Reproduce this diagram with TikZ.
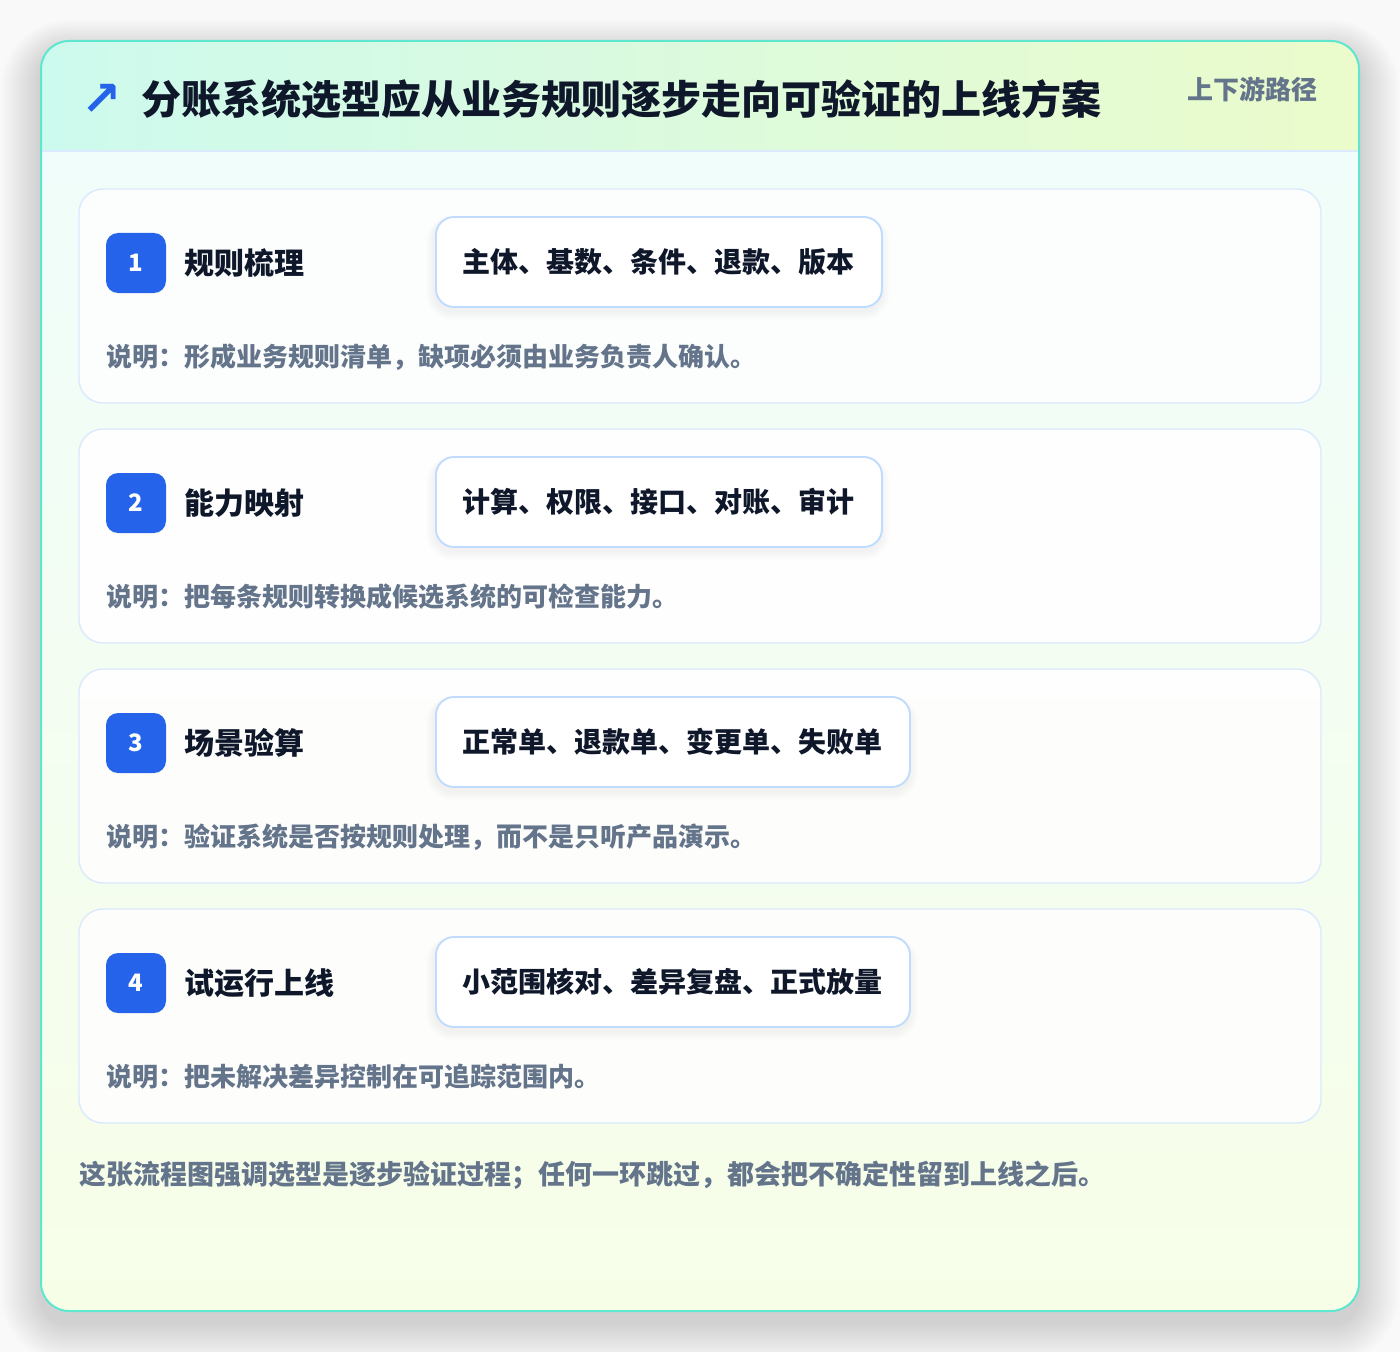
\documentclass[tikz,border=0pt]{standalone}
\usepackage{fontspec}
\setmainfont{Noto Sans CJK SC}
\newfontfamily\symfont{DejaVu Sans}
\usepackage{xcolor}

\definecolor{ink}{HTML}{0F172A}
\definecolor{muted}{HTML}{64748B}
\definecolor{badgeblue}{HTML}{2563EB}
\definecolor{cardline}{HTML}{DBEAFE}
\definecolor{tagline}{HTML}{BFDBFE}
\definecolor{tealline}{HTML}{5EE6CF}
\definecolor{mintA}{HTML}{CDFAEE}
\definecolor{limeA}{HTML}{EBFBCB}
\definecolor{bodytop}{HTML}{F0FDFA}
\definecolor{bodybot}{HTML}{F7FEE8}
\definecolor{pagebg}{HTML}{F9F9FA}

\tikzset{
  stepcard/.style={draw=cardline, line width=1.1pt, fill=white, fill opacity=0.85, text opacity=1, rounded corners=18pt},
  badgebox/.style={fill=badgeblue, text=white, rounded corners=9pt, minimum size=45pt, inner sep=0pt, font=\fontsize{18}{22}\selectfont\bfseries},
  steptitle/.style={anchor=west, inner sep=0pt, text=ink, font=\fontsize{22.5}{27}\selectfont\bfseries},
  tagbox/.style={anchor=west, draw=tagline, line width=1.4pt, fill=white, rounded corners=13.5pt, inner xsep=20.25pt, minimum height=67.5pt, text=ink, font=\fontsize{21}{25}\selectfont\bfseries},
  desctext/.style={anchor=west, inner sep=0pt, text=muted, font=\fontsize{19.5}{23}\selectfont\bfseries},
}

\begin{document}
\begin{tikzpicture}[x=0.75pt, y=-0.75pt]

  % Page
  \fill[pagebg] (0,0) rectangle (1400,1352);
  \useasboundingbox (0,0) rectangle (1400,1352);

  % Soft shadow of the card
  \foreach \s in {1,...,20} {
    \fill[black, opacity=0.006, rounded corners=21pt+\s*1.5pt]
      (41-\s*2, 52-\s*1.6) rectangle (1359+\s*2, 1323+\s*2);
  }

  % Card body and header
  \begin{scope}
    \clip[rounded corners=21pt] (41,41) rectangle (1359,1311);
    \shade[top color=bodytop, bottom color=bodybot] (41,151) rectangle (1359,1311);
    \shade[left color=mintA, right color=limeA] (41,41) rectangle (1359,151);
    \draw[cardline, line width=1.2pt] (41,151) -- (1359,151);
  \end{scope}
  \draw[tealline, line width=1.5pt, rounded corners=21pt] (41,41) rectangle (1359,1311);

  % Header texts
  \node[inner sep=0pt, text=badgeblue, font=\fontsize{36}{40}\symfont\bfseries] (icon) at (102,100) {↗};
  \node[anchor=west, inner sep=0pt, text=ink, font=\fontsize{30}{36}\selectfont\bfseries] (title) at (141,99)
    {分账系统选型应从业务规则逐步走向可验证的上线方案};
  \node[anchor=east, inner sep=0pt, text=muted, font=\fontsize{19.5}{23}\selectfont\bfseries] (path) at (1318,89)
    {上下游路径};

  % Steps
  \foreach \i/\name/\tag/\desc in {
      1/{规则梳理}/{主体、基数、条件、退款、版本}/{说明：形成业务规则清单，缺项必须由业务负责人确认。},
      2/{能力映射}/{计算、权限、接口、对账、审计}/{说明：把每条规则转换成候选系统的可检查能力。},
      3/{场景验算}/{正常单、退款单、变更单、失败单}/{说明：验证系统是否按规则处理，而不是只听产品演示。},
      4/{试运行上线}/{小范围核对、差异复盘、正式放量}/{说明：把未解决差异控制在可追踪范围内。}} {
    \pgfmathsetmacro\top{189+240*(\i-1)}
    \draw[stepcard] (79,\top) rectangle (1321,\top+214);
    \coordinate (card\i) at (79,\top);
    \node[badgebox] (badge\i) at (136,\top+74) {\i};
    \node[steptitle] (name\i) at (184,\top+74) {\name};
    \foreach \d in {1,...,6} {
      \fill[black, opacity=0.006, rounded corners=14pt+\d*1pt]
        (435-\d*1.5,\top+30-\d*0.5) rectangle (881+\ifnum\i>2 28\else 0\fi+\d*1.5,\top+122+\d*1.5);
    }
    \node[tagbox] (tag\i) at (435,\top+73) {\tag};
    \node[desctext] (desc\i) at (106,\top+168) {\desc};
  }

  % Footer
  \node[anchor=west, inner sep=0pt, text=muted, font=\fontsize{20.25}{24}\selectfont\bfseries] (note) at (79,1175)
    {这张流程图强调选型是逐步验证过程；任何一环跳过，都会把不确定性留到上线之后。};

\end{tikzpicture}
\end{document}
